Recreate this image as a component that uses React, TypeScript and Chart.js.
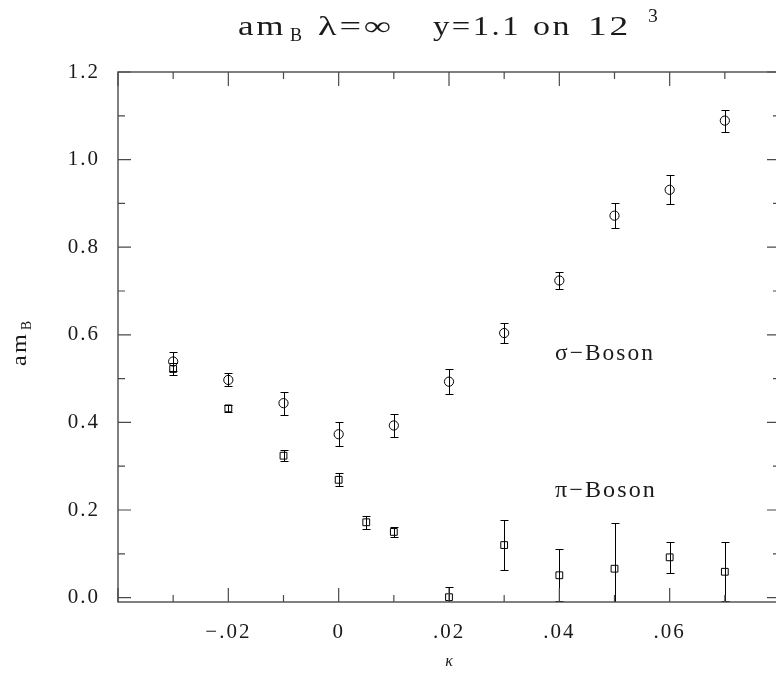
import React, { useEffect, useRef } from 'react';
import { Chart, registerables } from 'chart.js';

Chart.register(...registerables);

// sigma-boson masses
const kappaSigma = [-0.03, -0.02, -0.01, 0, 0.01, 0.02, 0.03, 0.04, 0.05, 0.06, 0.07];
const sigmaMass = [0.539, 0.497, 0.444, 0.373, 0.393, 0.493, 0.604, 0.724, 0.872, 0.931, 1.089];
const sigmaErr = [0.022, 0.015, 0.026, 0.027, 0.027, 0.028, 0.022, 0.02, 0.028, 0.033, 0.025];

// pi-boson masses
const kappaPi = [-0.03, -0.02, -0.01, 0, 0.005, 0.01, 0.02, 0.03, 0.04, 0.05, 0.06, 0.07];
const piMass = [0.522, 0.432, 0.324, 0.269, 0.172, 0.15, 0.001, 0.12, 0.051, 0.066, 0.092, 0.059];
const piErr = [0.013, 0.008, 0.013, 0.015, 0.015, 0.012, 0.023, 0.058, 0.059, 0.105, 0.035, 0.067];

// ticks
const xTickValues = [-0.04, -0.03, -0.02, -0.01, 0, 0.01, 0.02, 0.03, 0.04, 0.05, 0.06, 0.07, 0.08];
const xTickLabels = ['', '', '\u2212.02', '', '0', '', '.02', '', '.04', '', '.06', '', ''];
const yTickValues = [0, 0.1, 0.2, 0.3, 0.4, 0.5, 0.6, 0.7, 0.8, 0.9, 1.0, 1.1, 1.2];
const yTickLabels = ['0.0', '', '0.2', '', '0.4', '', '0.6', '', '0.8', '', '1.0', '', '1.2'];

const FONT = '"Liberation Serif", serif';
const FRAME = '#4a4a4a';
const TEXT = '#1a1a1a';

function wideText(ctx: CanvasRenderingContext2D, text: string, x: number, y: number, targetW: number) {
  (ctx as any).letterSpacing = '2px';
  const w = ctx.measureText(text).width;
  const k = targetW > 0 ? targetW / w : 1;
  ctx.save();
  ctx.translate(x, y);
  ctx.scale(k, 1);
  ctx.fillText(text, 0, 0);
  ctx.restore();
}

const decorPlugin = {
  id: 'decor',
  beforeDraw(chart: any) {
    chart.ctx.letterSpacing = '2px';
  },
  afterDatasetsDraw(chart: any) {
    const { ctx, chartArea: a, scales } = chart;
    const xs = scales.x;
    const ys = scales.y;
    ctx.save();
    ctx.beginPath();
    ctx.rect(a.left, a.top, a.right - a.left, a.bottom - a.top);
    ctx.clip();
    ctx.strokeStyle = '#000';
    ctx.lineWidth = 1;
    const bars = (kx: number[], m: number[], e: number[]) => {
      for (let i = 0; i < kx.length; i++) {
        const px = Math.round(xs.getPixelForValue(kx[i])) + 0.5;
        const y1 = Math.round(ys.getPixelForValue(m[i] + e[i])) + 0.5;
        const y2 = Math.round(ys.getPixelForValue(m[i] - e[i])) + 0.5;
        ctx.beginPath();
        ctx.moveTo(px, y1);
        ctx.lineTo(px, y2);
        ctx.moveTo(px - 4, y1);
        ctx.lineTo(px + 4, y1);
        ctx.moveTo(px - 4, y2);
        ctx.lineTo(px + 4, y2);
        ctx.stroke();
      }
    };
    bars(kappaSigma, sigmaMass, sigmaErr);
    bars(kappaPi, piMass, piErr);
    ctx.restore();

    // frame and inward ticks
    ctx.save();
    ctx.strokeStyle = FRAME;
    ctx.lineWidth = 1.4;
    ctx.strokeRect(a.left, a.top, a.right - a.left, a.bottom - a.top);
    ctx.lineWidth = 1.2;
    ctx.beginPath();
    xTickValues.forEach((v, i) => {
      const px = xs.getPixelForValue(v);
      const len = i % 2 === 0 ? 14 : 7;
      ctx.moveTo(px, a.bottom);
      ctx.lineTo(px, a.bottom - len);
      ctx.moveTo(px, a.top);
      ctx.lineTo(px, a.top + len);
    });
    yTickValues.forEach((v, i) => {
      const py = ys.getPixelForValue(v);
      const len = i % 2 === 0 ? 13 : 7;
      ctx.moveTo(a.left, py);
      ctx.lineTo(a.left + len, py);
      ctx.moveTo(a.right, py);
      ctx.lineTo(a.right - len, py);
    });
    ctx.stroke();
    ctx.restore();
  },
  afterDraw(chart: any) {
    const { ctx, chartArea: a } = chart;
    ctx.save();
    ctx.fillStyle = TEXT;
    ctx.textBaseline = 'alphabetic';
    ctx.textAlign = 'left';
    const big = `27px ${FONT}`;
    const small = `18px ${FONT}`;
    // title
    ctx.font = big;
    wideText(ctx, 'am', 238, 35, 48);
    ctx.font = small;
    wideText(ctx, 'B', 290, 41, 14);
    ctx.font = big;
    wideText(ctx, '\u03bb=\u221e', 318, 35, 76);
    wideText(ctx, 'y=1.1', 433, 35, 88);
    wideText(ctx, 'on', 533, 35, 39);
    wideText(ctx, '12', 588, 35, 43);
    ctx.font = small;
    wideText(ctx, '3', 648, 22, 12);

    // annotations
    ctx.font = `23px ${FONT}`;
    wideText(ctx, '\u03c3\u2212Boson', 555, 360, 100);
    wideText(ctx, '\u03c0\u2212Boson', 555, 497, 102);

    // y-axis label
    ctx.save();
    ctx.translate(26, 366);
    ctx.rotate(-Math.PI / 2);
    ctx.font = `22px ${FONT}`;
    wideText(ctx, 'am', 0, 0, 34);
    ctx.font = `14px ${FONT}`;
    wideText(ctx, 'B', 36, 5, 11);
    ctx.restore();

    // x-axis label
    ctx.font = `italic 16px ${FONT}`;
    ctx.textAlign = 'center';
    (ctx as any).letterSpacing = '0px';
    ctx.fillText('\u03ba', (a.left + a.right) / 2, 666);
    ctx.restore();
  },
};

export default function App() {
  const ref = useRef<HTMLCanvasElement | null>(null);
  useEffect(() => {
    const canvas = ref.current!;
    const chart = new Chart(canvas, {
      type: 'scatter',
      data: {
        datasets: [
          {
            label: 'sigma',
            data: kappaSigma.map((k, i) => ({ x: k, y: sigmaMass[i] })),
            pointStyle: 'circle',
            pointRadius: 4.6,
            borderColor: '#000',
            backgroundColor: 'rgba(0,0,0,0)',
            pointBorderWidth: 1,
          },
          {
            label: 'pi',
            data: kappaPi.map((k, i) => ({ x: k, y: piMass[i] })),
            pointStyle: 'rect',
            pointRadius: 4.8,
            borderColor: '#000',
            backgroundColor: 'rgba(0,0,0,0)',
            pointBorderWidth: 1,
          },
        ],
      },
      options: {
        responsive: false,
        animation: false,
        devicePixelRatio: 1,
        layout: { padding: { left: 0, right: 20, top: 72, bottom: 0 } },
        plugins: { legend: { display: false }, title: { display: false }, tooltip: { enabled: false } },
        scales: {
          x: {
            type: 'linear',
            min: -0.04,
            max: 0.08,
            afterBuildTicks: (s: any) => {
              s.ticks = xTickValues.map((v) => ({ value: v }));
            },
            afterFit: (s: any) => {
              s.height = 72;
            },
            grid: { display: false, drawTicks: false },
            border: { display: false },
            ticks: {
              autoSkip: false,
              maxRotation: 0,
              padding: 18,
              color: TEXT,
              font: { family: FONT, size: 21 },
              callback: (_v: any, i: number) => xTickLabels[i],
            },
          },
          y: {
            type: 'linear',
            min: -0.01,
            max: 1.2,
            afterBuildTicks: (s: any) => {
              s.ticks = yTickValues.map((v) => ({ value: v }));
            },
            afterFit: (s: any) => {
              s.width = 118;
            },
            grid: { display: false, drawTicks: false },
            border: { display: false },
            ticks: {
              autoSkip: false,
              padding: 18,
              color: TEXT,
              font: { family: FONT, size: 21 },
              callback: (_v: any, i: number) => yTickLabels[i],
            },
          },
        },
      },
      plugins: [decorPlugin],
    });
    return () => chart.destroy();
  }, []);
  return (
    <div style={{ position: 'absolute', left: 0, top: 0, width: 776, height: 674, overflow: 'hidden', background: '#fff' }}>
      <canvas ref={ref} width={800} height={674} style={{ display: 'block' }} />
    </div>
  );
}
